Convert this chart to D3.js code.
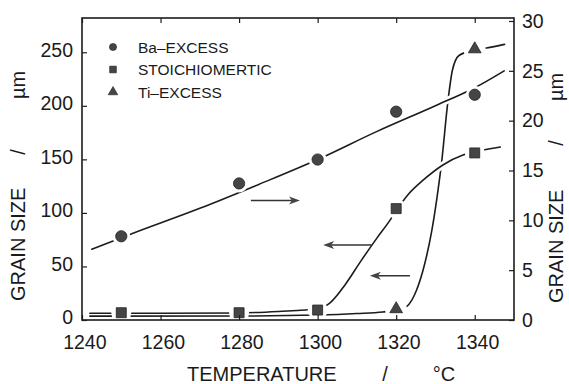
<!DOCTYPE html>
<html>
<head>
<meta charset="utf-8">
<script src="https://cdn.jsdelivr.net/npm/d3@7"></script>
<style>
  body { margin: 0; background: #fff; }
  text { font-family: "Liberation Sans", Arial, sans-serif; fill: #1a1a1a; }
</style>
</head>
<body>
<svg id="chart" width="569" height="384"></svg>
<script>
// measured points
const temps = [1250, 1280, 1300, 1320, 1340];
const baExcess = [8.4, 13.7, 16.1, 20.9, 22.6];     // right axis (um)
const stoich = [6.8, 6.8, 9.3, 104, 156];           // left axis (um)
const tiTemps = [1320, 1340];
const tiExcess = [9.3, 252];                         // left axis (um)

// hand drawn guide curves: [temperature, size]
const baCurve = [[1242.5, 7.1], [1253, 8.7], [1270, 11.2], [1285, 13.6], [1300, 16.1],
  [1315, 18.9], [1330, 21.5], [1340, 23.3], [1347.5, 25.0]];
const stoichCurve = [[1242, 6.3], [1260, 6.3], [1280, 6.6], [1290, 8], [1300, 10.5],
  [1303, 15.6], [1307, 33], [1311, 55], [1315, 76], [1318.4, 93], [1320, 102],
  [1323, 117], [1327, 131], [1332, 145], [1337, 154], [1342, 158.5], [1346.5, 161.5]];
const tiCurve = [[1242, 3.6], [1280, 3.7], [1300, 4.6], [1310, 6], [1316.6, 7.5],
  [1320, 9.3], [1322.6, 12.4], [1325.2, 28], [1327.3, 53], [1329, 82], [1330.3, 112],
  [1331.5, 145], [1333.2, 205], [1334.3, 233], [1336, 247], [1340, 252], [1343, 254],
  [1347.6, 257.4]];

const xTicks = [1240, 1260, 1280, 1300, 1320, 1340];
const leftTicks = [0, 50, 100, 150, 200, 250];
const rightTicks = [0, 5, 10, 15, 20, 25, 30];

const legendItems = ['Ba\u2013EXCESS', 'STOICHIOMERTIC', 'Ti\u2013EXCESS'];

// arrows showing which axis a curve belongs to
const arrows = [
  { axis: 'right', y: 12.0, from: 1283, to: 1295.5 },
  { axis: 'left', y: 70, from: 1313.8, to: 1301.4 },
  { axis: 'left', y: 41.4, from: 1323.5, to: 1313.3 }
];

const svg = d3.select('#chart');
const frame = { left: 82, right: 514, top: 18, bottom: 320 };
const ink = '#1c1c1c', markFill = '#454545';

const x = d3.scaleLinear().domain([1240, 1350]).range([frame.left, frame.right]);
const yL = d3.scaleLinear().domain([0, 282]).range([frame.bottom, frame.top]);
const yR = d3.scaleLinear().domain([0, 30.3]).range([frame.bottom, frame.top]);

const line = (ys) => d3.line()
  .x(d => x(d[0]))
  .y(d => ys(d[1]))
  .curve(d3.curveMonotoneX);

const curves = svg.append('g').attr('fill', 'none').attr('stroke-linecap', 'round');

// Ti first so the other two cut through it where they cross
curves.append('path').attr('d', line(yL)(tiCurve))
  .attr('stroke', ink).attr('stroke-width', 1.6);

curves.append('path').attr('d', line(yL)(stoichCurve.filter(d => d[0] >= 1325 && d[0] <= 1338)))
  .attr('stroke', '#fff').attr('stroke-width', 7);
curves.append('path').attr('d', line(yL)(stoichCurve))
  .attr('stroke', ink).attr('stroke-width', 1.6);

curves.append('path').attr('d', line(yR)(baCurve.filter(d => d[0] >= 1315 && d[0] <= 1340)))
  .attr('stroke', '#fff').attr('stroke-width', 7);
curves.append('path').attr('d', line(yR)(baCurve))
  .attr('stroke', ink).attr('stroke-width', 1.6);

// white gaps round the points
const halo = svg.append('g').attr('fill', '#fff');
temps.forEach((t, i) => {
  halo.append('circle').attr('cx', x(t)).attr('cy', yR(baExcess[i])).attr('r', 9);
  halo.append('circle').attr('cx', x(t)).attr('cy', yL(stoich[i])).attr('r', 10);
});
tiTemps.forEach((t, i) => {
  halo.append('circle').attr('cx', x(t)).attr('cy', yL(tiExcess[i])).attr('r', 11);
});

const sym = {
  circle: d3.symbol().type(d3.symbolCircle),
  square: d3.symbol().type(d3.symbolSquare),
  triangle: d3.symbol().type(d3.symbolTriangle)
};

const marks = svg.append('g').attr('fill', markFill).attr('stroke', '#222').attr('stroke-width', 0.8);
marks.selectAll('.ba').data(temps).join('path')
  .attr('class', 'ba')
  .attr('d', sym.circle.size(100))
  .attr('transform', (d, i) => `translate(${x(d)},${yR(baExcess[i])})`);
marks.selectAll('.st').data(temps).join('path')
  .attr('class', 'st')
  .attr('d', sym.square.size(100))
  .attr('transform', (d, i) => `translate(${x(d)},${yL(stoich[i])})`);
marks.selectAll('.ti').data(tiTemps).join('path')
  .attr('class', 'ti')
  .attr('d', sym.triangle.size(70))
  .attr('transform', (d, i) => `translate(${x(d)},${yL(tiExcess[i]) - 1})`);

// arrows
const ar = svg.append('g');
arrows.forEach(a => {
  const ys = a.axis === 'right' ? yR : yL;
  const x1 = x(a.from), x2 = x(a.to), yy = ys(a.y);
  const dir = x2 > x1 ? 1 : -1;
  ar.append('line').attr('x1', x1).attr('x2', x2 - dir * 6).attr('y1', yy).attr('y2', yy)
    .attr('stroke', '#333').attr('stroke-width', 1.5);
  ar.append('path')
    .attr('d', `M${x2},${yy}L${x2 - dir * 11},${yy - 4}L${x2 - dir * 8},${yy}L${x2 - dir * 11},${yy + 4}Z`)
    .attr('fill', '#444');
});

// axes, ticks inward
const fontTick = '19.5px';
const gx = svg.append('g').attr('transform', `translate(0,${frame.bottom})`)
  .call(d3.axisBottom(x).tickValues(xTicks).tickFormat(d3.format('d'))
    .tickSizeInner(-5).tickSizeOuter(0).tickPadding(15));
gx.selectAll('text').attr('dx', '0.12em');
const gt = svg.append('g').attr('transform', `translate(0,${frame.top})`)
  .call(d3.axisTop(x).tickValues(xTicks).tickSizeInner(-5).tickSizeOuter(0).tickFormat(''));
const gl = svg.append('g').attr('transform', `translate(${frame.left},0)`)
  .call(d3.axisLeft(yL).tickValues(leftTicks).tickSizeInner(-5).tickSizeOuter(0).tickPadding(9));
gl.selectAll('text').attr('dy', '0.2em');
const gr = svg.append('g').attr('transform', `translate(${frame.right},0)`)
  .call(d3.axisRight(yR).tickValues(rightTicks).tickSizeInner(-5).tickSizeOuter(0).tickPadding(8));

[gx, gt, gl, gr].forEach(g => {
  g.select('.domain').remove();
  g.selectAll('line').attr('stroke', ink).attr('stroke-width', 1.2);
  g.selectAll('text').attr('font-size', fontTick).attr('fill', ink)
    .attr('font-family', '"Liberation Sans", Arial, sans-serif');
});

svg.append('rect')
  .attr('x', frame.left).attr('y', frame.top)
  .attr('width', frame.right - frame.left).attr('height', frame.bottom - frame.top)
  .attr('fill', 'none').attr('stroke', ink).attr('stroke-width', 1.6);

// legend
const lg = svg.append('g');
const legendSym = [sym.circle.size(40), sym.square.size(45), sym.triangle.size(40)];
legendItems.forEach((name, i) => {
  const yy = 47 + i * 22.5;
  lg.append('path').attr('d', legendSym[i]).attr('transform', `translate(113,${yy})`)
    .attr('fill', markFill).attr('stroke', '#222').attr('stroke-width', 0.6);
  lg.append('text').attr('x', 138).attr('y', yy).attr('dy', '0.36em')
    .attr('font-size', '15.5px').text(name);
});

// axis titles
const title = (txt, tx, ty, rot, anchor) => svg.append('text')
  .attr('transform', `translate(${tx},${ty}) rotate(${rot})`)
  .attr('text-anchor', anchor).attr('font-size', '20px').text(txt);

title('TEMPERATURE', 187, 381, 0, 'start');
title('/', 385, 381, 0, 'middle');
title('\u00b0C', 444, 381, 0, 'middle');

title('GRAIN SIZE', 25, 301, -90, 'start');
title('/', 25, 152, -90, 'middle');
title('\u00b5m', 25, 85, -90, 'middle');

title('GRAIN SIZE', 563, 303, -90, 'start');
title('/', 563, 143, -90, 'middle');
title('\u00b5m', 563, 87, -90, 'middle');
</script>
</body>
</html>
